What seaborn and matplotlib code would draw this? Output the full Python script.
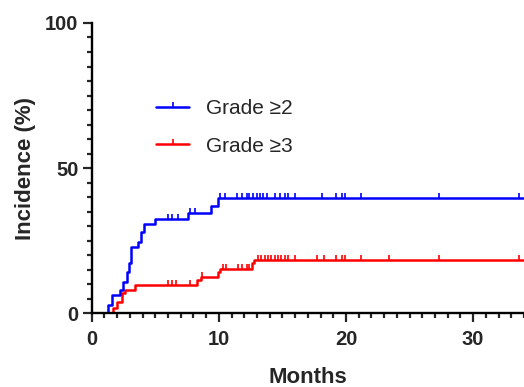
import numpy as np
import pandas as pd
import matplotlib
matplotlib.use("Agg")
import matplotlib.pyplot as plt
from matplotlib.lines import Line2D
from matplotlib.ticker import MultipleLocator
import seaborn as sns

# Cumulative incidence step curves (months, %)
grade2_t = [0, 1.3, 1.57, 2.2, 2.5, 2.75, 2.9, 3.1, 3.66, 3.87, 4.14, 5.0, 7.6, 9.4, 9.9, 34]
grade2_y = [0, 2.8, 6.2, 8.0, 10.8, 14.3, 17.2, 22.9, 24.6, 28.0, 30.6, 32.5, 34.5, 37.0, 39.5, 39.5]
grade2_cens = [6.0, 6.3, 6.8, 7.7, 8.1, 10.1, 10.5, 11.4, 11.8, 12.2, 12.4, 12.7, 13.0,
               13.2, 13.5, 13.75, 14.4, 14.8, 15.2, 15.45, 16.0, 18.1, 19.25, 19.65,
               19.9, 21.2, 27.3, 33.6]

grade3_t = [0, 1.7, 1.96, 2.36, 2.6, 3.4, 8.25, 8.6, 9.95, 10.1, 12.6, 12.8, 34]
grade3_y = [0, 1.6, 3.9, 6.8, 8.0, 9.8, 11.5, 12.5, 14.1, 15.3, 17.1, 18.2, 18.2]
grade3_cens = [6.0, 6.3, 6.6, 7.7, 8.7, 10.3, 10.6, 11.5, 11.8, 12.2, 12.4, 13.1, 13.35,
               13.6, 13.87, 14.1, 14.4, 14.65, 14.9, 15.2, 15.45, 16.0, 17.75, 18.3,
               19.25, 19.65, 19.9, 21.2, 23.4, 27.3, 33.6]

labels = ["Grade \u22652", "Grade \u22653"]
colors = ["#0000ff", "#ff0000"]


def step_value(times, vals, at):
    # value of a right-continuous step curve at the censoring times
    idx = np.searchsorted(times, at, side="right") - 1
    return np.asarray(vals)[idx]


sns.set_style("ticks")
plt.rcParams["font.family"] = ["Liberation Sans", "DejaVu Sans"]

fig = plt.figure(figsize=(5.24, 3.87), dpi=100)
ax = fig.add_axes([0.175, 0.191, 0.825, 0.7496])

curves = [(grade3_t, grade3_y, grade3_cens, labels[1], colors[1]),
          (grade2_t, grade2_y, grade2_cens, labels[0], colors[0])]
for t, y, cens, lab, col in curves:
    df = pd.DataFrame({"t": t, "y": y})
    sns.lineplot(data=df, x="t", y="y", ax=ax, color=col, lw=1.8,
                 drawstyle="steps-post", estimator=None, sort=False)
    cy = step_value(t, y, cens)
    ax.plot(cens, cy, linestyle="none", marker=2, markersize=3.6,
            markeredgewidth=1.2, color=col)

ax.set_xlim(0, 34)
ax.set_ylim(0, 100)
ax.xaxis.set_major_locator(MultipleLocator(10))
ax.xaxis.set_minor_locator(MultipleLocator(1))
ax.yaxis.set_major_locator(MultipleLocator(50))
ax.yaxis.set_minor_locator(MultipleLocator(5))
ax.tick_params(which="major", length=6.5, width=1.6, labelsize=14.5, pad=3)
ax.tick_params(axis="x", which="major", pad=5.5)
ax.tick_params(which="minor", length=3.5, width=1.6)
for lbl in ax.get_xticklabels() + ax.get_yticklabels():
    lbl.set_fontweight("bold")

sns.despine(ax=ax)
for s in ["left", "bottom"]:
    ax.spines[s].set_linewidth(1.7)
    ax.spines[s].set_color("black")

ax.set_xlabel("Months", fontsize=16, fontweight="bold")
ax.set_ylabel("Incidence (%)", fontsize=16, fontweight="bold")
ax.xaxis.set_label_coords(0.5, -0.185)
ax.yaxis.set_label_coords(-0.128, 0.5)

handles = [Line2D([], [], color=c, lw=1.8, marker=2, markersize=3.6,
                  markeredgewidth=1.2) for c in colors]
ax.legend(handles, labels, loc="center left", bbox_to_anchor=(0.2977, 0.671),
          bbox_transform=fig.transFigure, frameon=False, fontsize=15,
          handlelength=1.6, handletextpad=0.8, labelspacing=0.9,
          borderpad=0, borderaxespad=0, numpoints=1)

fig.savefig("out.png", dpi=100)
